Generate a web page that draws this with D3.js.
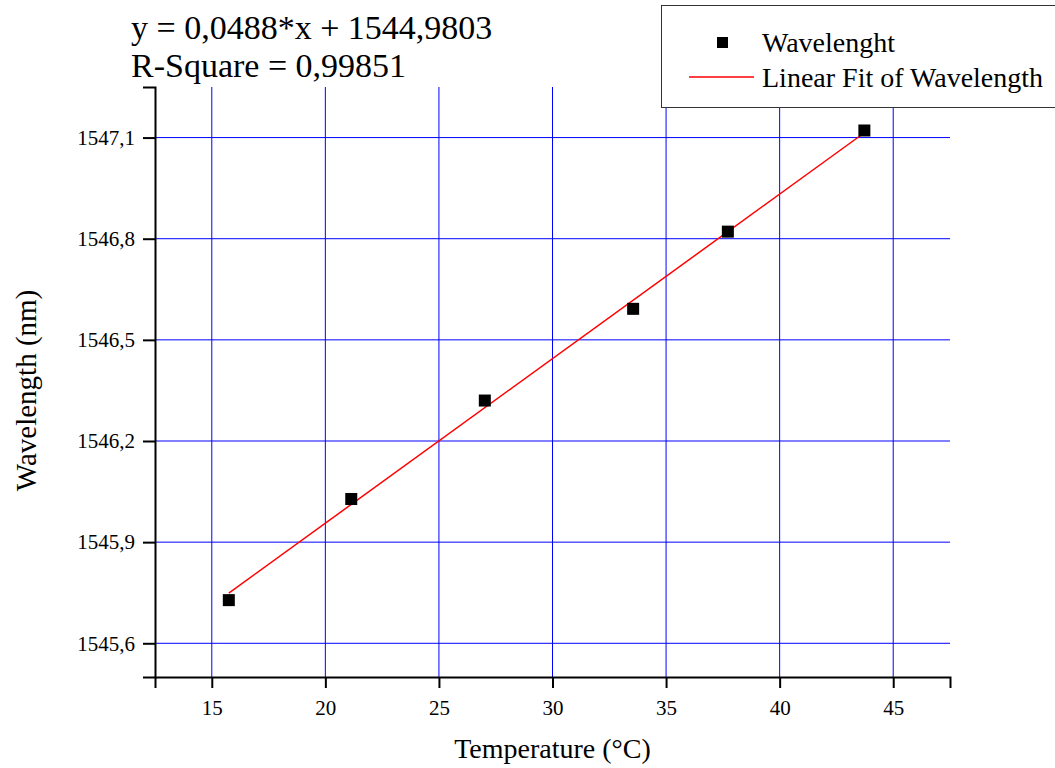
<!DOCTYPE html>
<html>
<head>
<meta charset="utf-8">
<script src="https://cdn.jsdelivr.net/npm/d3@7"></script>
<style>
  body { margin: 0; background: #fff; }
  svg { font-family: "Liberation Serif", "Times New Roman", serif; }
</style>
</head>
<body>
<script>
const w = 1055
const h = 768

// measured points
const temperature = [15.75, 21.14, 27.02, 33.55, 37.72, 43.73]
const wavelength = [1545.728, 1546.028, 1546.32, 1546.592, 1546.821, 1547.121]

// linear fit
const slope = 0.0488
const intercept = 1544.9803
const rSquare = "0,99851"

const xTicks = [15, 20, 25, 30, 35, 40, 45]
const yTicks = [1545.6, 1545.9, 1546.2, 1546.5, 1546.8, 1547.1]

const margin = {left: 155, right: 105, top: 87, bottom: 91}

const locale = d3.formatLocale({decimal: ",", thousands: "", grouping: [3], currency: ["", ""]})
const fmt1 = locale.format(".1f")

const svg = d3.select("body").append("svg")
	.attr("width", w).attr("height", h)

const x = d3.scaleLinear().domain([12.5, 47.5]).range([margin.left, w - margin.right])
const y = d3.scaleLinear().domain([1545.5, 1547.25]).range([h - margin.bottom, margin.top])

// grid
svg.append("g").selectAll("line")
	.data(xTicks).enter().append("line")
	.attr("x1", d => x(d)).attr("x2", d => x(d))
	.attr("y1", y.range()[0]).attr("y2", y.range()[1])
	.attr("stroke", "#0000ff").attr("stroke-width", 1)

svg.append("g").selectAll("line")
	.data(yTicks).enter().append("line")
	.attr("x1", x.range()[0]).attr("x2", x.range()[1])
	.attr("y1", d => y(d)).attr("y2", d => y(d))
	.attr("stroke", "#0000ff").attr("stroke-width", 1)

// axes
const xMinor = d3.range(12.5, 47.6, 5)
const yMinor = d3.range(1545.75, 1547.26, 0.3)

const xAxis = svg.append("g")
	.attr("transform", `translate(0,${y.range()[0]})`)
xAxis.call(d3.axisBottom(x).tickValues(xMinor).tickSize(6).tickFormat(""))
xAxis.call(d3.axisBottom(x).tickValues(xTicks).tickSize(11).tickPadding(12).tickFormat(d3.format("d")))

const yAxis = svg.append("g")
	.attr("transform", `translate(${x.range()[0]},0)`)
yAxis.call(d3.axisLeft(y).tickValues(yMinor).tickSize(6).tickFormat(""))
yAxis.call(d3.axisLeft(y).tickValues(yTicks).tickSize(12).tickPadding(8).tickFormat(fmt1))

svg.selectAll(".domain").attr("stroke", "#000").attr("stroke-width", 2)
svg.selectAll(".tick line").attr("stroke", "#000").attr("stroke-width", 2)
svg.selectAll(".tick text")
	.attr("font-family", "Liberation Serif, serif")
	.attr("font-size", "21px").attr("fill", "#000")

// fit line
const x0 = d3.min(temperature), x1 = d3.max(temperature)
svg.append("line")
	.attr("x1", x(x0)).attr("y1", y(slope * x0 + intercept))
	.attr("x2", x(x1)).attr("y2", y(slope * x1 + intercept))
	.attr("stroke", "#ff0000").attr("stroke-width", 1.5)

// points
const pts = d3.zip(temperature, wavelength)
svg.append("g").selectAll("rect")
	.data(pts).enter().append("rect")
	.attr("x", d => x(d[0]) - 6).attr("y", d => y(d[1]) - 6)
	.attr("width", 12).attr("height", 12)
	.attr("fill", "#000")

// axis titles
svg.append("text")
	.attr("x", x(30)).attr("y", 758)
	.attr("text-anchor", "middle").attr("font-size", "28px")
	.text("Temperature (°C)")

svg.append("text")
	.attr("transform", `translate(36,${y(1546.35)}) rotate(-90)`)
	.attr("text-anchor", "middle").attr("font-size", "29px")
	.text("Wavelength (nm)")

// equation
svg.append("text")
	.attr("x", 131).attr("y", 39).attr("font-size", "34px")
	.text(`y = ${locale.format(".4f")(slope)}*x + ${locale.format(".4f")(intercept)}`)
svg.append("text")
	.attr("x", 131).attr("y", 77).attr("font-size", "34px")
	.text(`R-Square = ${rSquare}`)

// legend
const lg = svg.append("g")
lg.append("rect")
	.attr("x", 661.5).attr("y", 5.5).attr("width", 420).attr("height", 102)
	.attr("fill", "#fff").attr("stroke", "#333").attr("stroke-width", 1)
lg.append("rect")
	.attr("x", 717).attr("y", 37).attr("width", 11).attr("height", 11).attr("fill", "#000")
lg.append("text")
	.attr("x", 762).attr("y", 52).attr("font-size", "28px").text("Wavelenght")
lg.append("line")
	.attr("x1", 689).attr("x2", 754).attr("y1", 77).attr("y2", 77)
	.attr("stroke", "#ff0000").attr("stroke-width", 1.5)
lg.append("text")
	.attr("x", 762).attr("y", 87).attr("font-size", "28px").text("Linear Fit of Wavelength")
</script>
</body>
</html>
